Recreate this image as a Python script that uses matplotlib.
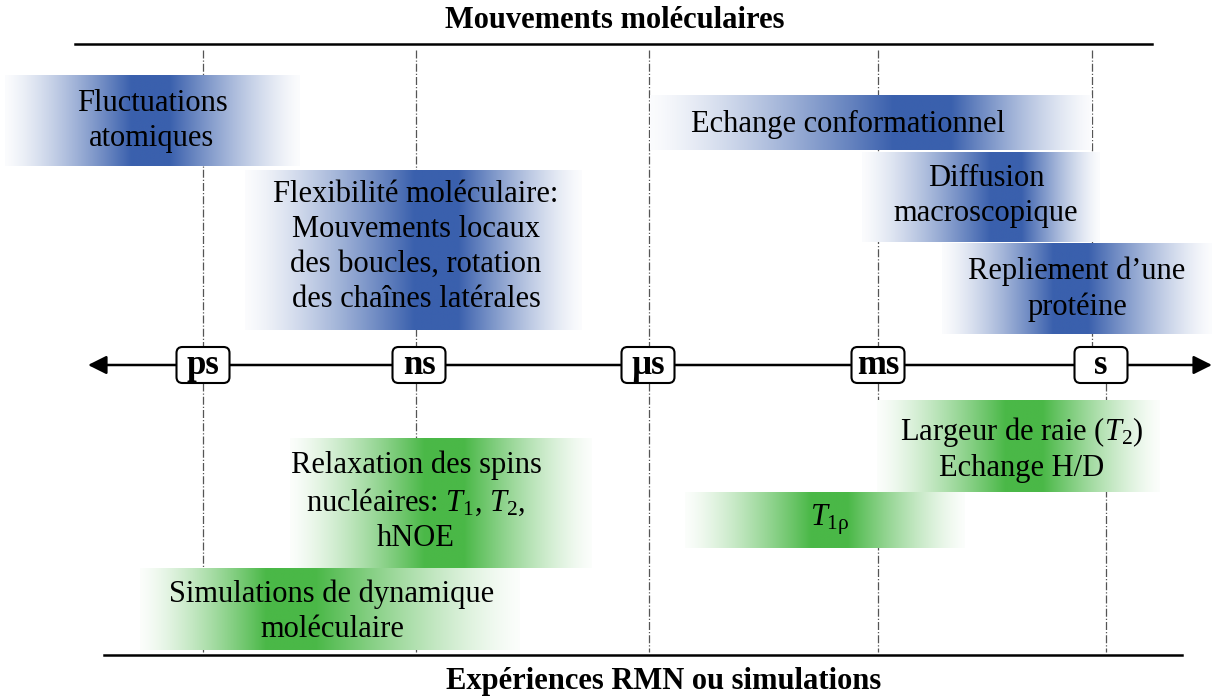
import numpy as np
import matplotlib
matplotlib.use("Agg")
import matplotlib.pyplot as plt
from matplotlib.patches import FancyBboxPatch, FancyArrowPatch
from matplotlib.colors import to_rgb

plt.rcParams['font.family'] = ['Liberation Serif', 'DejaVu Serif']
plt.rcParams['mathtext.fontset'] = 'custom'
plt.rcParams['mathtext.rm'] = 'Liberation Serif'
plt.rcParams['mathtext.it'] = 'Liberation Serif:italic'

# ---- content ----
top_title = "Mouvements moléculaires"
bottom_title = "Expériences RMN ou simulations"
scale_units = ["ps", "ns", "µs", "ms", "s"]

motion_labels = [
    "Fluctuations\natomiques",
    "Echange conformationnel",
    "Diffusion\nmacroscopique",
    "Repliement d\u2019une\nprotéine",
    "Flexibilité moléculaire:\nMouvements locaux\ndes boucles, rotation\ndes chaînes latérales",
]
experiment_labels = [
    "Relaxation des spins\nnucléaires: $T_1$, $T_2$,\nhNOE",
    "Largeur de raie ($T_2$)\nEchange H/D",
    "$T_{\\mathrm{1ρ}}$",
    "Simulations de dynamique\nmoléculaire",
]

# ---- layout (pixel space) ----
W, H = 1212, 697
unit_x = [203, 419, 648, 878, 1101]
top_guides = [203, 416, 649, 878, 1092]
bot_guides = [203, 416, 649, 878, 1106]
axis_y = 365

# (x0, x1, y0, y1, peak, text_x, text_y)
motion_boxes = [
    (5, 300, 75, 166, 150, 152, 121),
    (650, 1092, 95, 150, 930, 848, 124),
    (862, 1100, 152, 242, 1010, 986, 196),
    (942, 1212, 243, 334, 1070, 1077, 289),
    (245, 582, 170, 330, 440, 416, 247),
]
exp_boxes = [
    (290, 592, 438, 568, 445, 416, 502),
    (877, 1160, 400, 492, 1025, 1022, 449),
    (685, 965, 492, 548, 830, 830, 520),
    (140, 520, 568, 650, 285, 332, 612),
]
blue = "#3a60ad"
green = "#4ab847"

fig = plt.figure(figsize=(W / 100, H / 100), dpi=100)
ax = fig.add_axes([0, 0, 1, 1])
ax.set_xlim(0, W)
ax.set_ylim(H, 0)
ax.axis("off")

# guides
for gx in top_guides:
    ax.plot([gx, gx], [50, axis_y - 18], ls="-.", lw=0.9, color="#555555", zorder=1)
for gx in bot_guides:
    ax.plot([gx, gx], [axis_y + 18, 652], ls="-.", lw=0.9, color="#555555", zorder=1)


def grad_box(x0, x1, y0, y1, peak, color):
    n = 400
    xs = np.linspace(x0, x1, n)
    t = np.where(xs <= peak, (xs - x0) / (peak - x0), (x1 - xs) / (x1 - peak))
    t = np.clip(t * 1.15, 0, 1) ** 1.3
    t = 0.02 + 0.98 * t
    c = np.array(to_rgb(color))
    img = (1 - t[:, None]) * np.ones(3) + t[:, None] * c
    img = img[None, :, :]
    ax.imshow(img, extent=(x0, x1, y1, y0), aspect="auto",
              interpolation="bilinear", zorder=2)


FS = 22
LS = 1.27
for (x0, x1, y0, y1, pk, tx, ty), lab in zip(motion_boxes, motion_labels):
    grad_box(x0, x1, y0, y1, pk, blue)
    ax.text(tx, ty, lab, ha="center", va="center", fontsize=FS,
            linespacing=LS, zorder=5)
for (x0, x1, y0, y1, pk, tx, ty), lab in zip(exp_boxes, experiment_labels):
    grad_box(x0, x1, y0, y1, pk, green)
    ax.text(tx, ty, lab, ha="center", va="center", fontsize=FS,
            linespacing=LS, zorder=5)

ax.set_xlim(0, W)
ax.set_ylim(H, 0)

# titles and rules
ax.plot([75, 1152], [44, 44], color="black", lw=1.8, zorder=3)
ax.plot([104, 1182], [655, 655], color="black", lw=1.8, zorder=3)
ax.text(615, 20, top_title, ha="center", va="center", fontsize=22,
        fontweight="bold")
ax.text(664, 682, bottom_title, ha="center", va="center", fontsize=22,
        fontweight="bold")

# main axis
arr = FancyArrowPatch((88, axis_y), (1212, axis_y), arrowstyle="<|-|>",
                      mutation_scale=28, lw=1.8, color="black", zorder=4,
                      shrinkA=0, shrinkB=0)
ax.add_patch(arr)

bw, bh = 53, 36
for ux, u in zip(unit_x, scale_units):
    box = FancyBboxPatch((ux - bw / 2, axis_y - bh / 2), bw, bh,
                         boxstyle="round,pad=0,rounding_size=6",
                         fc="white", ec="black", lw=1.5, zorder=6)
    ax.add_patch(box)
    ax.text(ux, axis_y + 1, u, ha="center", va="center", fontsize=25,
            fontweight="bold", zorder=7)

fig.savefig("out.png", dpi=100)
